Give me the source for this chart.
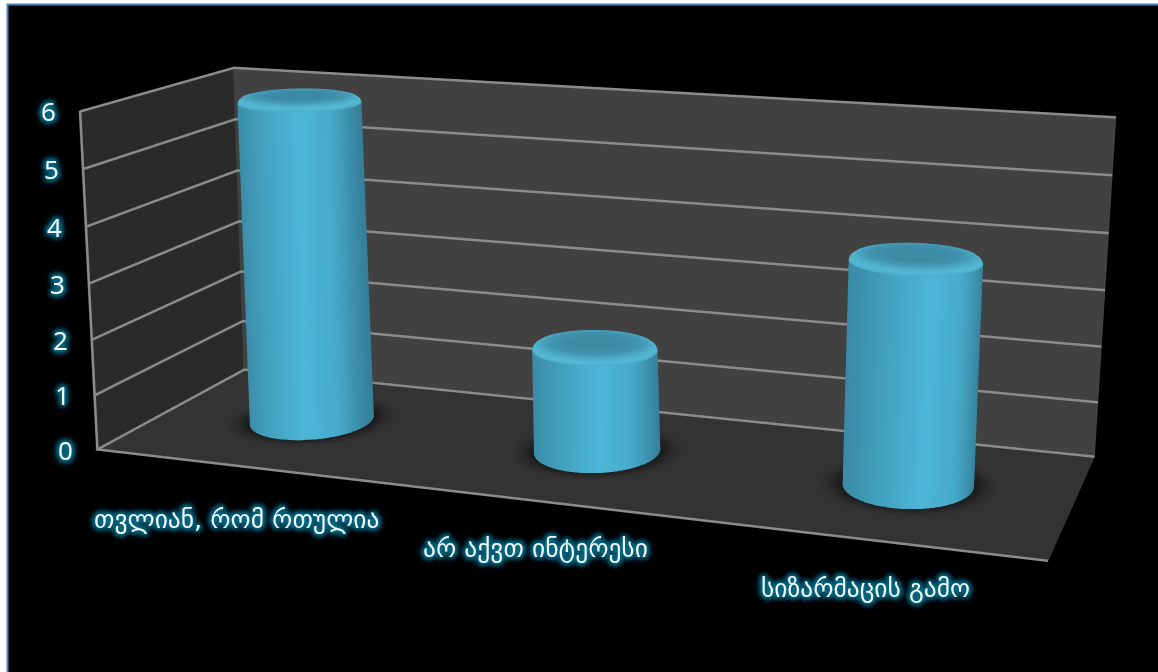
import numpy as np, plotly.graph_objects as go

categories = ["თვლიან, რომ რთულია", "არ აქვთ ინტერესი", "სიზარმაცის გამო"]
values = [6, 2, 4]
ticks = [0, 1, 2, 3, 4, 5, 6]

eye = np.array([0.7547, -2.2124, 0.5594])
center = np.array([-0.0116, -0.0172, -0.0497])
up = np.array([-0.0872, 0.238, 0.9674])
AX, AY, AZ = 1.0, 0.338, 0.3621
W, H = 1158, 1920
OFF = H / 2 - 336
X0, X1 = -.5, 2.5
Y0, Y1 = 0., 1.
Z0, Z1 = 0., 6.
LINE = dict(color="#8b8b8b", width=5)
EX, EY, EZ = 0.006, 0.006, 0.012

def py(y):
    return 1 - (y + OFF) / H

v = (center - eye) / np.linalg.norm(center - eye)
r = np.cross(v, up)
rn = r[:2] / np.linalg.norm(r[:2])

fig = go.Figure()
for t in ticks:
    zt = t + (EZ if t == Z0 else (-EZ if t == Z1 else 0))
    fig.add_trace(go.Scatter3d(x=[X0 + EX, X0 + EX, X1], y=[Y0, Y1 - EY, Y1 - EY], z=[zt, zt, zt], mode="lines",
                               line=LINE, hoverinfo="skip", showlegend=False))
fig.add_trace(go.Scatter3d(x=[X0 + EX, X0 + EX], y=[Y0, Y0], z=[Z0, Z1], mode="lines", line=LINE, hoverinfo="skip", showlegend=False))
fig.add_trace(go.Scatter3d(x=[X0, X1], y=[Y0, Y0], z=[Z0 + EZ, Z0 + EZ], mode="lines", line=LINE, hoverinfo="skip", showlegend=False))

R = 0.0655
rx = R / (AX / 3)
ry = R / AY
scale = [[0, "#3a8ba6"], [.25, "#43a2bf"], [.55, "#4db6d6"], [.8, "#46a9c8"], [1, "#367f9a"]]
LIT = dict(ambient=1, diffuse=0, specular=0, roughness=1, fresnel=0)
th = np.linspace(0, 2 * np.pi, 121)
for i, val in enumerate(values):
    xc, yc = i, .5
    top = val - .12
    T = np.tile(th, (2, 1))
    Zb = np.array([[0.0] * len(th), [top] * len(th)])
    ryy = np.array([[ry * 1.2] * len(th), [ry] * len(th)])
    ycc = np.array([[yc + .03] * len(th), [yc] * len(th)])
    fig.add_trace(go.Surface(x=xc + rx * np.cos(T), y=ycc + ryy * np.sin(T), z=Zb,
                             surfacecolor=np.cos(T) * rn[0] + np.sin(T) * rn[1], colorscale=scale, cmin=-1, cmax=1,
                             showscale=False, lighting=LIT, hoverinfo="skip"))
    rad = np.array([1.0, .98, .93, .85, .72, .45, 0])
    cz_ = np.array([top, val - .07, val - .03, val - .01, val, val, val])
    cc = np.array([.7, .9, .75, .55, .3, .12, .08])
    T2, RR = np.meshgrid(th, rad)
    fig.add_trace(go.Surface(x=xc + rx * RR * np.cos(T2), y=yc + ry * RR * np.sin(T2),
                             z=np.tile(cz_[:, None], (1, len(th))), surfacecolor=np.tile(cc[:, None], (1, len(th))),
                             colorscale=[[0, "#38859f"], [1, "#58bedb"]], cmin=0, cmax=1, showscale=False,
                             lighting=LIT, hoverinfo="skip"))
    rr = np.linspace(.9, 1.38, 12)
    T3, RS = np.meshgrid(th, rr)
    fig.add_trace(go.Surface(x=xc + rx * RS * np.cos(T3), y=yc + .03 + ry * 1.15 * RS * np.sin(T3), z=0.01 + 0 * RS,
                             surfacecolor=RS, colorscale=[[0, "#000"], [1, "#000"]], cmin=.9, cmax=1.38,
                             showscale=False, lighting=LIT, hoverinfo="skip",
                             opacityscale=[[0, .6], [.3, .42], [.7, .12], [1, 0]]))

G1 = "0 0 5px #0c6a84"
G2 = "0 0 8px #0b6079"
GLOW = ", ".join([G1] * 5 + [G2] * 4)
TXT = "#f2fbfd"
ann = []
for t in ticks:
    ann.append(dict(x=X0, y=Y0, z=t, text=str(t), showarrow=False, xshift=-30, yshift=0,
                    font=dict(family="Noto Sans", size=26, color=TXT, shadow=GLOW)))
shx = [0, -3, -5]
shy = [-53, -46, -47]
for i, c in enumerate(categories):
    ann.append(dict(x=i, y=Y0, z=Z0, text=c, showarrow=False, xshift=shx[i], yshift=shy[i],
                    font=dict(family="DejaVu Sans", size=25.5, color=TXT, shadow=GLOW)))

ax = dict(visible=True, showgrid=False, showline=False, zeroline=False, showticklabels=False, ticks="", title="",
          showspikes=False, showbackground=True)
fig.update_layout(
    width=W, height=H, margin=dict(l=0, r=0, t=0, b=0), autosize=False, paper_bgcolor="white", showlegend=False,
    shapes=[dict(type="rect", xref="paper", yref="paper", x0=7.5 / W, x1=1.01, y0=py(700), y1=py(4.5),
                 fillcolor="black", line=dict(color="#4f81bd", width=2), layer="below")],
    scene=dict(domain=dict(x=[0, 1], y=[0, 1]), bgcolor="rgba(0,0,0,0)", dragmode="orbit",
               aspectmode="manual", aspectratio=dict(x=AX, y=AY, z=AZ),
               camera=dict(eye=dict(x=eye[0], y=eye[1], z=eye[2]), center=dict(x=center[0], y=center[1], z=center[2]),
                           up=dict(x=up[0], y=up[1], z=up[2]), projection=dict(type="perspective")),
               xaxis=dict(ax, range=[X0, X1], backgroundcolor="#2a2a2a"),
               yaxis=dict(ax, range=[Y0, Y1], backgroundcolor="#414141"),
               zaxis=dict(ax, range=[Z0, Z1], backgroundcolor="#333333"),
               annotations=ann))
post = f"""document.documentElement.style.cssText='overflow:hidden;height:672px;background:white';
document.body.style.cssText='margin:0;overflow:hidden;height:672px;position:relative';
var g=document.querySelector('.plotly-graph-div');g.style.position='absolute';g.style.left='0';g.style.top='{-OFF}px';"""
fig.write_html("out.html", post_script=post, config=dict(displayModeBar=False))
